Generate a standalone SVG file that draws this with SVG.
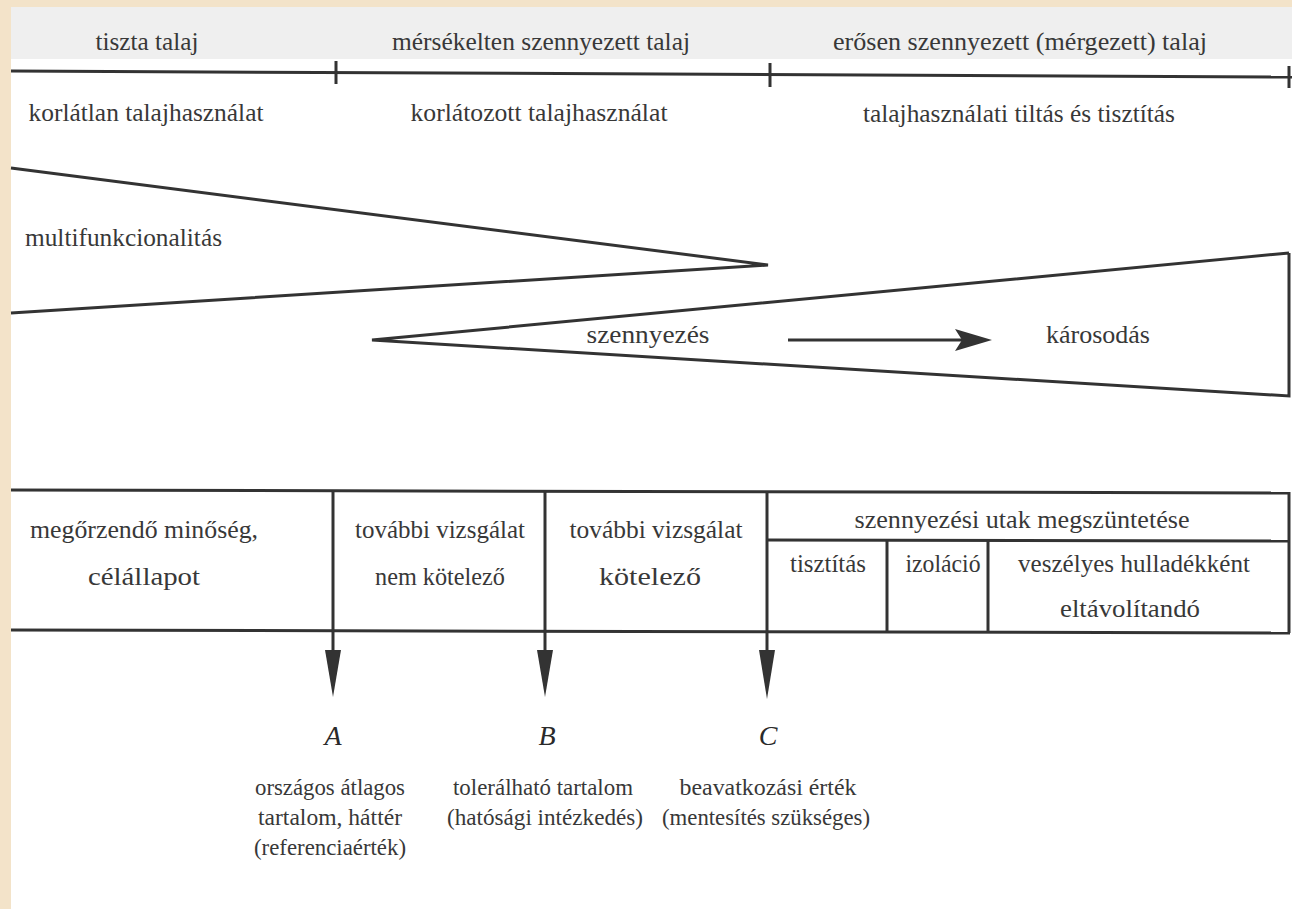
<svg xmlns="http://www.w3.org/2000/svg" width="1292" height="909" viewBox="0 0 1292 909">
<defs>
<style>
text{font-family:'Liberation Serif','DejaVu Serif',serif}
.t{font-size:26px;fill:#383838;text-anchor:middle}
.s{font-size:23px}
.l{text-anchor:start}
.it{font-style:italic;font-size:28px;fill:#2a2a2a}
.ln{stroke:#333;stroke-width:3;fill:none;stroke-linecap:butt}
.ah{fill:#333}
</style>
</defs>
<rect x="0" y="0" width="1292" height="909" fill="#f3e3c9"/>
<rect x="11" y="7" width="1281" height="902" fill="#ffffff"/>
<rect x="11" y="7" width="1281" height="52" fill="#efefef"/>

<g id="connectors">
  <line class="ln" x1="11" y1="71" x2="1292" y2="77"/>
  <line class="ln" x1="336" y1="61" x2="336" y2="84"/>
  <line class="ln" x1="770" y1="63" x2="770" y2="87"/>
  <line class="ln" x1="1289" y1="66" x2="1289" y2="88"/>

  <polyline class="ln" points="11,168 768,265 11,313"/>
  <polyline class="ln" points="1289,253 372,340 1289,396 1289,253"/>

  <line class="ln" x1="788" y1="340" x2="962" y2="340"/>
  <polygon class="ah" points="955,329 992,340 955,351 962,340"/>

  <line class="ln" x1="11" y1="490" x2="1290" y2="493"/>
  <line class="ln" x1="11" y1="630" x2="1290" y2="633"/>
  <line class="ln" x1="1289" y1="492" x2="1289" y2="633"/>
  <line class="ln" x1="767" y1="540" x2="1290" y2="541"/>
  <line class="ln" x1="887" y1="540" x2="887" y2="632"/>
  <line class="ln" x1="988" y1="540" x2="988" y2="632"/>

  <line class="ln" x1="333" y1="490" x2="333" y2="655"/>
  <line class="ln" x1="545" y1="491" x2="545" y2="655"/>
  <line class="ln" x1="767" y1="491" x2="767" y2="655"/>
  <polygon class="ah" points="325,650 341,650 333,697"/>
  <polygon class="ah" points="537,650 553,650 545,697"/>
  <polygon class="ah" points="759,650 775,650 767,699"/>
</g>

<g id="header-clean"><text class="t" x="147" y="50" textLength="103" lengthAdjust="spacingAndGlyphs">tiszta talaj</text></g>
<g id="header-moderate"><text class="t" x="541" y="50" textLength="298" lengthAdjust="spacingAndGlyphs">mérsékelten szennyezett talaj</text></g>
<g id="header-heavy"><text class="t" x="1020" y="50" textLength="374" lengthAdjust="spacingAndGlyphs">erősen szennyezett (mérgezett) talaj</text></g>

<g id="use-unlimited"><text class="t" x="146" y="121" textLength="235" lengthAdjust="spacingAndGlyphs">korlátlan talajhasználat</text></g>
<g id="use-limited"><text class="t" x="539" y="121" textLength="257" lengthAdjust="spacingAndGlyphs">korlátozott talajhasználat</text></g>
<g id="use-banned"><text class="t" x="1019" y="122" textLength="312" lengthAdjust="spacingAndGlyphs">talajhasználati tiltás és tisztítás</text></g>

<g id="multifunc"><text class="t l" x="25" y="246" textLength="197" lengthAdjust="spacingAndGlyphs">multifunkcionalitás</text></g>
<g id="pollution"><text class="t" x="648" y="343" textLength="123" lengthAdjust="spacingAndGlyphs">szennyezés</text></g>
<g id="damage"><text class="t" x="1098" y="343" textLength="104" lengthAdjust="spacingAndGlyphs">károsodás</text></g>

<g id="cell-quality">
  <text class="t" x="144" y="538" textLength="228" lengthAdjust="spacingAndGlyphs">megőrzendő minőség,</text>
  <text class="t" x="144" y="585" textLength="112" lengthAdjust="spacingAndGlyphs">célállapot</text>
</g>
<g id="cell-optional">
  <text class="t" x="440" y="538" textLength="170" lengthAdjust="spacingAndGlyphs">további vizsgálat</text>
  <text class="t" x="440" y="585" textLength="130" lengthAdjust="spacingAndGlyphs">nem kötelező</text>
</g>
<g id="cell-mandatory">
  <text class="t" x="656" y="538" textLength="173" lengthAdjust="spacingAndGlyphs">további vizsgálat</text>
  <text class="t" x="650" y="585" textLength="102" lengthAdjust="spacingAndGlyphs">kötelező</text>
</g>
<g id="cell-paths"><text class="t" x="1022" y="528" textLength="335" lengthAdjust="spacingAndGlyphs">szennyezési utak megszüntetése</text></g>
<g id="cell-clean"><text class="t" x="828" y="572" textLength="76" lengthAdjust="spacingAndGlyphs">tisztítás</text></g>
<g id="cell-isolation"><text class="t" x="943" y="572" textLength="75" lengthAdjust="spacingAndGlyphs">izoláció</text></g>
<g id="cell-waste">
  <text class="t" x="1134" y="572" textLength="232" lengthAdjust="spacingAndGlyphs">veszélyes hulladékként</text>
  <text class="t" x="1130" y="617" textLength="140" lengthAdjust="spacingAndGlyphs">eltávolítandó</text>
</g>

<g id="point-A">
  <text class="t it" x="333" y="745">A</text>
  <text class="t s" x="330" y="795" textLength="150" lengthAdjust="spacingAndGlyphs">országos átlagos</text>
  <text class="t s" x="330" y="825" textLength="144" lengthAdjust="spacingAndGlyphs">tartalom, háttér</text>
  <text class="t s" x="330" y="855" textLength="152" lengthAdjust="spacingAndGlyphs">(referenciaérték)</text>
</g>
<g id="point-B">
  <text class="t it" x="547" y="745">B</text>
  <text class="t s" x="543" y="795" textLength="180" lengthAdjust="spacingAndGlyphs">tolerálható tartalom</text>
  <text class="t s" x="545" y="825" textLength="196" lengthAdjust="spacingAndGlyphs">(hatósági intézkedés)</text>
</g>
<g id="point-C">
  <text class="t it" x="768" y="745">C</text>
  <text class="t s" x="768" y="795" textLength="177" lengthAdjust="spacingAndGlyphs">beavatkozási érték</text>
  <text class="t s" x="766" y="825" textLength="208" lengthAdjust="spacingAndGlyphs">(mentesítés szükséges)</text>
</g>
</svg>
